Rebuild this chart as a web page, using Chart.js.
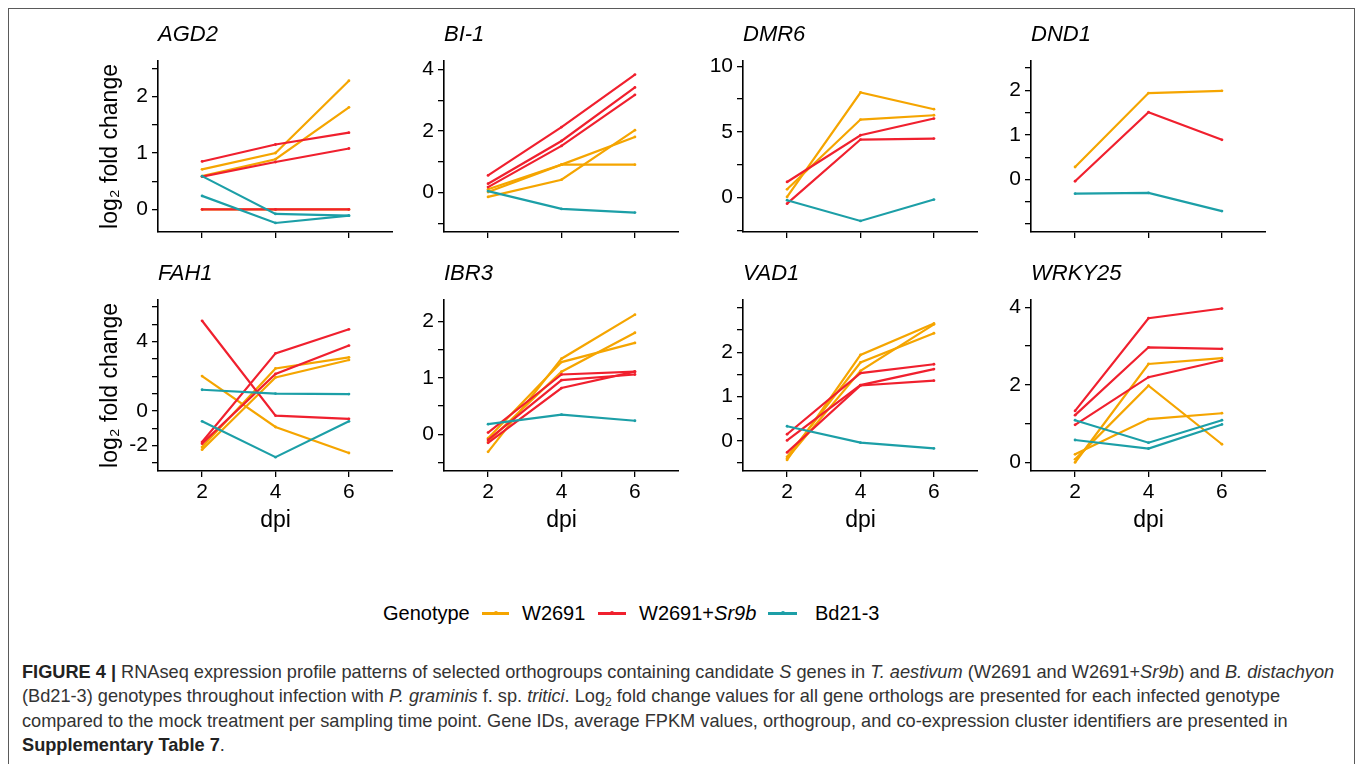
<!DOCTYPE html>
<html>
<head>
<meta charset="utf-8">
<script src="https://cdn.jsdelivr.net/npm/chart.js@4.4.1/dist/chart.umd.min.js"></script>
<style>
  html, body { margin: 0; padding: 0; background: #fff; }
  body { width: 1358px; height: 764px; position: relative; overflow: hidden;
         font-family: 'Liberation Sans', Arial, sans-serif; color: #000; }
  .frame { position: absolute; left: 8px; top: 8px; width: 1347px; height: 790px;
           border: 1.4px solid #5a5a5a; box-sizing: border-box; }
  canvas.panel { position: absolute; }
  .lg { position: absolute; top: 601px; font-size: 20px; line-height: 24px; white-space: nowrap; }
  .key { position: absolute; top: 612px; height: 2.6px; }
  .key span { position: absolute; left: 50%; top: -1px; width: 4px; height: 4px; margin-left: -2px;
              border-radius: 50%; background: inherit; }
  .caption { position: absolute; left: 22px; top: 661px; font-size: 18.2px; line-height: 23.7px;
             color: #333; white-space: nowrap; }
  .caption b { color: #222; }
  .caption sub { font-size: 12px; vertical-align: baseline; position: relative; top: 4px; }
</style>
</head>
<body>
<div class="frame"></div>

<div class="lg" style="left:383px">Genotype</div>
<div class="key" style="left:482px;width:27px;background:#F5A500"><span></span></div>
<div class="lg" style="left:522px">W2691</div>
<div class="key" style="left:598px;width:28px;background:#F0202E"><span></span></div>
<div class="lg" style="left:639px">W2691+<i>Sr9b</i></div>
<div class="key" style="left:768px;width:29px;background:#1C9FA7"><span></span></div>
<div class="lg" style="left:815px">Bd21-3</div>

<div class="caption">
<b>FIGURE 4 |</b> RNAseq expression profile patterns of selected orthogroups containing candidate <i>S</i> genes in <i>T. aestivum</i> (W2691 and W2691+<i>Sr9b</i>) and <i>B. distachyon</i><br>
(Bd21-3) genotypes throughout infection with <i>P. graminis</i> f. sp. <i>tritici</i>. Log<sub>2</sub> fold change values for all gene orthologs are presented for each infected genotype<br>
compared to the mock treatment per sampling time point. Gene IDs, average FPKM values, orthogroup, and co-expression cluster identifiers are presented in<br>
<b>Supplementary Table 7</b>.
</div>

<script>
const dpi = [2, 4, 6];
const genotypes = ['W2691', 'W2691+Sr9b', 'Bd21-3'];
const colours = ['#F5A500', '#F0202E', '#1C9FA7'];

// log2 fold change, one row per ortholog (values at 2, 4, 6 dpi)
const agd2W2691 = [[0.71, 1.00, 2.28], [0.59, 0.89, 1.81], [0, 0, 0]];
const agd2Sr9b  = [[0.85, 1.15, 1.36], [0.58, 0.84, 1.08], [0, 0, 0]];
const agd2Bd21  = [[0.59, -0.08, -0.11], [0.24, -0.24, -0.11]];

const bi1W2691 = [[0.11, 0.91, 0.91], [-0.14, 0.42, 2.03], [0.02, 0.91, 1.81]];
const bi1Sr9b  = [[0.56, 2.13, 3.84], [0.29, 1.68, 3.42], [0.18, 1.52, 3.18]];
const bi1Bd21  = [[0.05, -0.53, -0.65]];

const dmr6W2691 = [[0.05, 8.0, 6.73], [0.63, 5.94, 6.27]];
const dmr6Sr9b  = [[1.19, 4.75, 6.02], [-0.46, 4.42, 4.49]];
const dmr6Bd21  = [[-0.2, -1.78, -0.15]];

const dnd1W2691 = [[0.28, 1.94, 1.99]];
const dnd1Sr9b  = [[-0.04, 1.51, 0.89]];
const dnd1Bd21  = [[-0.32, -0.30, -0.71]];

const fah1W2691 = [[2.01, -0.93, -2.43], [-2.09, 2.45, 3.09], [-2.24, 1.93, 2.94]];
const fah1Sr9b  = [[5.2, -0.27, -0.46], [-1.80, 3.32, 4.71], [-1.89, 2.13, 3.77]];
const fah1Bd21  = [[1.22, 1.0, 0.97], [-0.6, -2.67, -0.6]];

const ibr3W2691 = [[-0.31, 1.34, 2.12], [-0.07, 1.28, 1.62], [-0.13, 1.11, 1.80]];
const ibr3Sr9b  = [[0.03, 1.06, 1.11], [-0.10, 0.96, 1.06], [-0.15, 0.82, 1.11]];
const ibr3Bd21  = [[0.18, 0.35, 0.24]];

const vad1W2691 = [[-0.43, 1.94, 2.65], [-0.36, 1.77, 2.43], [-0.40, 1.58, 2.63]];
const vad1Sr9b  = [[0.15, 1.53, 1.73], [0.01, 1.26, 1.62], [-0.26, 1.25, 1.36]];
const vad1Bd21  = [[0.33, -0.04, -0.17]];

const wrky25W2691 = [[0.0, 2.54, 2.69], [0.08, 1.98, 0.47], [0.21, 1.12, 1.27]];
const wrky25Sr9b  = [[1.33, 3.72, 3.97], [1.22, 2.97, 2.93], [0.97, 2.20, 2.63]];
const wrky25Bd21  = [[1.09, 0.51, 1.09], [0.58, 0.36, 0.98]];

// labelled y ticks per panel
const agd2Ticks = [0, 1, 2];
const bi1Ticks = [0, 2, 4];
const dmr6Ticks = [0, 5, 10];
const dnd1Ticks = [0, 1, 2];
const fah1Ticks = [-2, 0, 4];
const ibr3Ticks = [0, 1, 2];
const vad1Ticks = [0, 1, 2];
const wrky25Ticks = [0, 2, 4];

const panels = [
  { gene: 'AGD2', lines: [agd2W2691, agd2Sr9b, agd2Bd21], ticks: agd2Ticks, min: -0.40, max: 2.63, step: 0.5, col: 0, row: 0 },
  { gene: 'BI-1', lines: [bi1W2691, bi1Sr9b, bi1Bd21], ticks: bi1Ticks, min: -1.28, max: 4.28, step: 1, col: 1, row: 0 },
  { gene: 'DMR6', lines: [dmr6W2691, dmr6Sr9b, dmr6Bd21], ticks: dmr6Ticks, min: -2.62, max: 10.4, step: 2.5, col: 2, row: 0 },
  { gene: 'DND1', lines: [dnd1W2691, dnd1Sr9b, dnd1Bd21], ticks: dnd1Ticks, min: -1.18, max: 2.66, step: 0.5, col: 3, row: 0 },
  { gene: 'FAH1', lines: [fah1W2691, fah1Sr9b, fah1Bd21], ticks: fah1Ticks, min: -3.47, max: 6.4, step: 1, col: 0, row: 1 },
  { gene: 'IBR3', lines: [ibr3W2691, ibr3Sr9b, ibr3Bd21], ticks: ibr3Ticks, min: -0.65, max: 2.38, step: 0.5, col: 1, row: 1 },
  { gene: 'VAD1', lines: [vad1W2691, vad1Sr9b, vad1Bd21], ticks: vad1Ticks, min: -0.68, max: 3.18, step: 0.5, col: 2, row: 1 },
  { gene: 'WRKY25', lines: [wrky25W2691, wrky25Sr9b, wrky25Bd21], ticks: wrky25Ticks, min: -0.22, max: 4.19, step: 1, col: 3, row: 1 }
];

const colLeft = [158, 444, 743, 1031];
const rowTop = [61, 300];
const plotW = 235, plotH = 171, titleH = 41;
const FONT = "'Liberation Sans', Arial, sans-serif";

function stepsBetween(min, max, step) {
  const out = [];
  for (let v = Math.ceil(min / step) * step; v <= max + 1e-9; v += step) out.push(Math.round(v * 1000) / 1000);
  return out;
}

function makePanel(p) {
  const yW = p.col === 0 ? 68 : 50;
  const xH = p.row === 1 ? 70 : 20;
  const canvas = document.createElement('canvas');
  canvas.className = 'panel';
  canvas.width = yW + plotW;
  canvas.height = titleH + plotH + xH;
  canvas.style.left = (colLeft[p.col] - yW) + 'px';
  canvas.style.top = (rowTop[p.row] - titleH) + 'px';
  document.body.appendChild(canvas);

  const datasets = [];
  p.lines.forEach((group, g) => {
    group.forEach(row => {
      datasets.push({
        label: genotypes[g],
        data: row.map((v, i) => ({ x: dpi[i], y: v })),
        borderColor: colours[g],
        backgroundColor: colours[g],
        borderWidth: 2.2,
        pointRadius: 1.4,
        pointBorderWidth: 0,
        tension: 0,
        clip: false,
        order: 3 - g   // later genotypes drawn on top, as in ggplot
      });
    });
  });

  new Chart(canvas.getContext('2d'), {
    type: 'line',
    data: { datasets },
    options: {
      responsive: false,
      animation: false,
      events: [],
      layout: { padding: 0, autoPadding: false },
      plugins: {
        legend: { display: false },
        tooltip: { enabled: false },
        title: {
          display: true,
          text: p.gene,
          align: 'start',
          fullSize: false,
          color: '#000',
          font: { family: FONT, size: 22, style: 'italic', weight: 'normal' },
          padding: { top: 1.8, bottom: 12.8 }
        }
      },
      scales: {
        x: {
          type: 'linear',
          min: 0.8,
          max: 7.2,
          afterBuildTicks: s => { s.ticks = dpi.map(v => ({ value: v })); },
          afterFit: s => { s.height = xH; },
          ticks: {
            display: p.row === 1,
            autoSkip: false,
            maxRotation: 0,
            padding: 3,
            color: '#000',
            font: { family: FONT, size: 21 },
            callback: v => String(v)
          },
          grid: { drawOnChartArea: false, drawTicks: true, tickLength: 6, color: '#000', lineWidth: 1.3 },
          border: { display: true, color: '#000', width: 1.6 },
          title: {
            display: p.row === 1,
            text: 'dpi',
            color: '#000',
            font: { family: FONT, size: 23 },
            padding: { top: 0, bottom: 7 }
          }
        },
        y: {
          type: 'linear',
          min: p.min,
          max: p.max,
          afterBuildTicks: s => { s.ticks = stepsBetween(p.min, p.max, p.step).map(v => ({ value: v })); },
          afterFit: s => { s.width = yW; },
          ticks: {
            autoSkip: false,
            padding: 4,
            color: '#000',
            font: { family: FONT, size: 21 },
            callback: v => p.ticks.some(m => Math.abs(m - v) < 1e-6) ? String(v) : ''
          },
          grid: { drawOnChartArea: false, drawTicks: true, tickLength: 6, color: '#000', lineWidth: 1.3 },
          border: { display: true, color: '#000', width: 1.6 },
          title: {
            display: p.col === 0,
            text: 'log\u2082 fold change',
            color: '#000',
            font: { family: FONT, size: 23 },
            padding: { top: 7, bottom: 0 }
          }
        }
      }
    }
  });
}

panels.forEach(makePanel);
</script>
</body>
</html>
